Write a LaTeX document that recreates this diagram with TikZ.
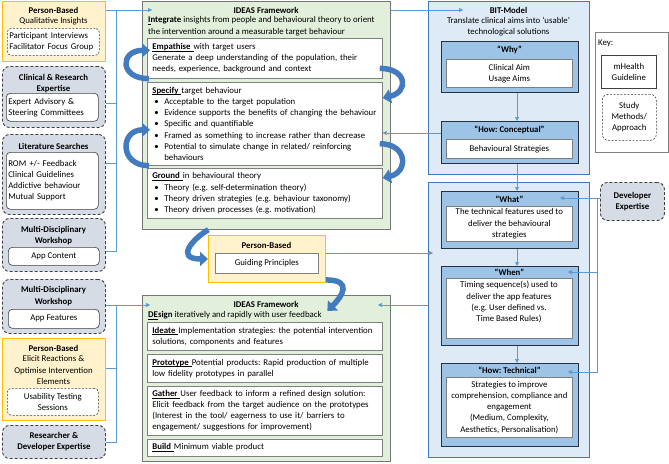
\documentclass[tikz,border=0pt]{standalone}
\usepackage{fontspec}
\setmainfont{Carlito}
\usetikzlibrary{arrows.meta}
\definecolor{pbfill}{RGB}{255,242,204}
\definecolor{pbdraw}{RGB}{255,192,0}
\definecolor{mfill}{RGB}{214,220,229}
\definecolor{mdraw}{RGB}{64,64,64}
\definecolor{gfill}{RGB}{226,239,218}
\definecolor{gdraw}{RGB}{118,118,118}
\definecolor{bfill}{RGB}{222,235,247}
\definecolor{bdraw}{RGB}{68,120,190}
\definecolor{hfill}{RGB}{157,195,230}
\definecolor{hdraw}{RGB}{38,48,66}
\definecolor{lnk}{RGB}{91,155,213}
\definecolor{curv}{RGB}{66,124,190}
\parindent=0pt
\frenchspacing
\newcommand\bitem[1]{\par\makebox[12pt][l]{\hspace{2pt}\textbullet}#1}
\newcommand\bmore[1]{\par\hspace*{12pt}#1}
\newcommand\ulb[1]{\underline{\smash{\textbf{#1}}\ }}
\tikzset{
    every node/.style={font=\fontsize{8.8}{11.2}\selectfont, inner sep=0pt},
    pbox/.style={draw=pbdraw, fill=pbfill, line width=0.9pt, anchor=north west},
    mbox/.style={draw=mdraw, fill=mfill, line width=0.9pt, dash pattern=on 3pt off 2pt, rounded corners=7pt, anchor=north west},
    gbox/.style={draw=gdraw, fill=gfill, line width=0.7pt, anchor=north west},
    bitbox/.style={draw=bdraw, fill=bfill, line width=0.7pt, anchor=north west},
    hdbox/.style={draw=hdraw, fill=hfill, line width=1.1pt, anchor=north west},
    wbox/.style={draw=gray, fill=white, line width=0.7pt, anchor=north west, inner xsep=5pt, align=left},
    rbox/.style={draw=mdraw, fill=white, line width=0.6pt, rounded corners=4pt, anchor=north west, inner xsep=2pt},
    dbox/.style={rbox, dash pattern=on 2pt off 1.5pt},
    ttl/.style={font=\fontsize{8.8}{11.2}\selectfont\bfseries, align=center},
    link/.style={draw=lnk, line width=0.6pt},
    arr/.style={link, -{Triangle[length=4pt,width=4pt]}},
    cyc/.style={draw=curv, line width=5.5pt, -{Triangle[length=8pt,width=14pt]}}
}
\begin{document}
\begin{tikzpicture}[x=1pt, y=-1pt]
    \useasboundingbox (0, 0) rectangle (669, 463);
    % left column
    \node [pbox, minimum width=103, minimum height=60] (pbA) at (2, 1) {};
    \node [ttl] (pbAt) at (53.5, 10) {Person-Based};
    \node (pbAs) at (53.5, 21) {Qualitative Insights};
    \node [dbox, minimum width=92, minimum height=27, text width=88, align=left] (pbAi) at (7, 28) {Participant Interviews\\Facilitator Focus Group};
    \node [mbox, minimum width=103, minimum height=61] (crExp) at (2, 66) {};
    \node [ttl] (crExpt) at (53.5, 83.5) {Clinical \& Research\\Expertise};
    \node [rbox, minimum width=92, minimum height=28, text width=88, align=left] (crExpi) at (6, 93) {Expert Advisory \&\\Steering Committees};
    \node [mbox, minimum width=103, minimum height=80] (litS) at (2, 134) {};
    \node [ttl] (litSt) at (53.5, 146) {Literature Searches};
    \node [rbox, minimum width=92, minimum height=57, text width=88, align=left] (litSi) at (6, 152) {ROM +/- Feedback\\Clinical Guidelines\\Addictive behaviour\\Mutual Support};
    \node [mbox, minimum width=103, minimum height=53] (mdwA) at (2, 218) {};
    \node [ttl] (mdwAt) at (53.5, 235.5) {Multi-Disciplinary\\Workshop};
    \node [rbox, minimum width=91, minimum height=18] (mdwAi) at (8, 247) {App Content};
    \node [mbox, minimum width=103, minimum height=54] (mdwB) at (2, 279) {};
    \node [ttl] (mdwBt) at (53.5, 296) {Multi-Disciplinary\\Workshop};
    \node [rbox, minimum width=91, minimum height=19] (mdwBi) at (8, 309) {App Features};
    \node [pbox, minimum width=103, minimum height=82] (pbB) at (2, 338) {};
    \node [ttl] (pbBt) at (53.5, 348) {Person-Based};
    \node [align=center] (pbBs) at (53.5, 370) {Elicit Reactions \&\\Optimise Intervention\\Elements};
    \node [dbox, minimum width=91, minimum height=27, align=center] (pbBi) at (7, 388) {Usability Testing\\Sessions};
    \node [mbox, ttl, minimum width=103, minimum height=33] (rdExp) at (2, 425) {Researcher \&\\Developer Expertise};
    % IDEAS
    \node [gbox, minimum width=248, minimum height=228] (ideasA) at (142, 1) {};
    \node [ttl] (ideasAt) at (266, 10) {IDEAS Framework};
    \node [anchor=north west, align=left] (ideasAs) at (148, 16.5) {\underline{\textbf{I}}\textbf{ntegrate} insights from people and behavioural theory to orient\\the intervention around a measurable target behaviour};
    \node [wbox, minimum width=235, minimum height=40, text width=225] (emp) at (147, 38) {\ulb{Empathise}with target users\\Generate a deep understanding of the population, their\\needs, experience, background and context};
    \node [wbox, minimum width=235, minimum height=83, text width=225] (spec) at (147, 82) {\ulb{Specify}target behaviour\bitem{Acceptable to the target population}\bitem{Evidence supports the benefits of changing the behaviour}\bitem{Specific and quantifiable}\bitem{Framed as something to increase rather than decrease}\bitem{Potential to simulate change in related/ reinforcing}\bmore{behaviours}};
    \node [wbox, minimum width=235, minimum height=50, text width=225] (grnd) at (147, 168) {\ulb{Ground}in behavioural theory\bitem{Theory (e.g. self-determination theory)}\bitem{Theory driven strategies (e.g. behaviour taxonomy)}\bitem{Theory driven processes (e.g. motivation)}};
    \node [pbox, minimum width=117, minimum height=47] (pbC) at (208, 235) {};
    \node [ttl] (pbCt) at (266.5, 245) {Person-Based};
    \node [wbox, minimum width=103, minimum height=20, align=center] (pbCi) at (215, 253) {Guiding Principles};
    \node [gbox, minimum width=248, minimum height=166] (ideasB) at (142, 295) {};
    \node [ttl] (ideasBt) at (266, 304) {IDEAS Framework};
    \node [anchor=north west] (ideasBs) at (148, 311) {\underline{\textbf{DE}}\textbf{sign} iteratively and rapidly with user feedback};
    \node [wbox, minimum width=235, minimum height=28, text width=225] (ideate) at (147, 322) {\ulb{Ideate}Implementation strategies: the potential intervention\\solutions, components and features};
    \node [wbox, minimum width=235, minimum height=28, text width=225] (proto) at (147, 354) {\ulb{Prototype}Potential products: Rapid production of multiple\\low fidelity prototypes in parallel};
    \node [wbox, minimum width=235, minimum height=49, text width=225] (gather) at (147, 386) {\ulb{Gather}User feedback to inform a refined design solution:\\Elicit feedback from the target audience on the prototypes\\(Interest in the tool/ eagerness to use it/ barriers to\\engagement/ suggestions for improvement)};
    \node [wbox, minimum width=235, minimum height=17, text width=225] (build) at (147, 439) {\ulb{Build}Minimum viable product};
    % BIT-Model
    \node [bitbox, minimum width=161, minimum height=173] (bitA) at (428, 1) {};
    \node [ttl] (bitAt) at (508.5, 10) {BIT-Model};
    \node [align=center] (bitAs) at (508.5, 26.5) {Translate clinical aims into ‘usable’\\technological solutions};
    \node [hdbox, minimum width=137, minimum height=51] (why) at (441, 41) {};
    \node [ttl] (whyt) at (509.5, 50) {“Why”};
    \node [wbox, inner xsep=2pt, minimum width=126, minimum height=28, align=center] (whyi) at (446, 59) {Clinical Aim\\Usage Aims};
    \node [hdbox, minimum width=137, minimum height=42] (howC) at (441, 121) {};
    \node [ttl] (howCt) at (509.5, 130) {“How: Conceptual”};
    \node [wbox, inner xsep=2pt, minimum width=126, minimum height=19, align=center] (howCi) at (446, 139) {Behavioural Strategies};
    \node [bitbox, minimum width=161, minimum height=275] (bitB) at (428, 182) {};
    \node [hdbox, minimum width=137, minimum height=57] (what) at (441, 191) {};
    \node [ttl] (whatt) at (509.5, 199) {“What”};
    \node [wbox, inner xsep=2pt, minimum width=126, minimum height=35, align=center] (whati) at (446, 206) {The technical features used to\\deliver the behavioural\\strategies};
    \node [hdbox, minimum width=137, minimum height=79] (when) at (441, 266) {};
    \node [ttl] (whent) at (509.5, 272) {“When”};
    \node [wbox, minimum width=126, minimum height=60] (wheni) at (446, 278) {};
    \node [align=center] (whens) at (509, 302) {Timing sequence(s) used to\\deliver the app features\\(e.g. User defined vs.\\Time Based Rules)};
    \node [hdbox, minimum width=137, minimum height=83] (howT) at (441, 363) {};
    \node [ttl] (howTt) at (509.5, 370) {“How: Technical”};
    \node [wbox, inner xsep=2pt, minimum width=126, minimum height=60, align=center] (howTi) at (446, 377) {Strategies to improve\\comprehension, compliance and\\engagement\\(Medium, Complexity,\\Aesthetics, Personalisation)};
    % key
    \node [draw=gray, fill=white, line width=0.7pt, minimum width=73, minimum height=120, anchor=north west] (keyBox) at (595, 32) {};
    \node [anchor=base west] (keyT) at (598, 45) {Key:};
    \node [wbox, inner xsep=2pt, draw=mdraw, minimum width=55, minimum height=33, align=center] (keyG) at (601, 55) {mHealth\\Guideline};
    \node [dbox, minimum width=54, minimum height=46, align=center, rounded corners=6pt] (keyM) at (602, 94) {Study\\Methods/\\Approach};
    \node [mbox, ttl, minimum width=64, minimum height=38] (devExp) at (600, 182) {Developer\\Expertise};
    % links
    \coordinate (busA) at (116, 10);
    \coordinate (inA) at (152, 10);
    \draw [arr] (pbA.east |- inA) -- (inA);
    \draw [link] (busA) |- (mdwA.east |- 0, 251);
    \draw [link] (crExp.east |- 0, 103) -- (busA |- 0, 103);
    \draw [link] (litS.east |- 0, 163) -- (busA |- 0, 163);
    \coordinate (busB) at (116, 305);
    \coordinate (inB) at (150, 305);
    \draw [arr] (mdwB.east |- inB) -- (inB);
    \draw [link] (busB) |- (rdExp.east);
    \draw [link] (pbB.east |- 0, 368) -- (busB |- 0, 368);
    \coordinate (inC) at (463, 10);
    \draw [arr] (ideasA.east |- inC) -- (inC);
    \draw [arr] (howC.west |- 0, 133) -- (spec.east |- 0, 133);
    \coordinate (inD) at (433, 253);
    \draw [arr] (pbC.east |- inD) -- (inD);
    \coordinate (inE) at (378, 305);
    \draw [arr] (bitB.west |- inE) -- (inE);
    \coordinate (busC) at (597, 198);
    \coordinate (inF) at (560, 198);
    \coordinate (inG) at (568, 272);
    \coordinate (inH) at (568, 372);
    \draw [arr] (devExp.west |- busC) -- (inF);
    \draw [arr] (busC) |- (inH);
    \draw [arr] (busC |- inG) -- (inG);
    \draw [arr] ([xshift=7pt]why.south) -- ([xshift=7pt]howC.north);
    \draw [arr] ([xshift=7pt]howC.south) -- ([xshift=7pt]what.north);
    \draw [arr] ([xshift=7pt]what.south) -- ([xshift=7pt]when.north);
    \draw [arr] ([xshift=7pt]when.south) -- ([xshift=7pt]howT.north);
    % cycle arrows
    \draw [cyc] ([xshift=2pt]emp.south west) .. controls +(-30, 0) and +(-30, 0) .. ([xshift=3pt, yshift=8pt]emp.west);
    \draw [cyc] ([xshift=2pt]spec.south west) .. controls +(-30, 0) and +(-30, 0) .. ([xshift=3pt, yshift=-6pt]spec.west);
    \draw [cyc] ([xshift=-3pt, yshift=-10pt]emp.east) .. controls +(28, 0) and +(26, -6) .. ([yshift=-16pt]spec.north east);
    \draw [cyc] ([xshift=-3pt, yshift=22pt]spec.south east) .. controls +(28, 0) and +(26, -6) .. ([yshift=-10pt]grnd.north east);
    \draw [cyc] ([xshift=-58pt]ideasA.south) .. controls +(-14, 8) and +(-34, 0) .. (pbC.west);
    \draw [cyc] ([yshift=3pt]pbC.south east) .. controls +(28, 0) and +(14, -14) .. ([xshift=61pt, yshift=-16pt]ideasB.north);
\end{tikzpicture}
\end{document}
